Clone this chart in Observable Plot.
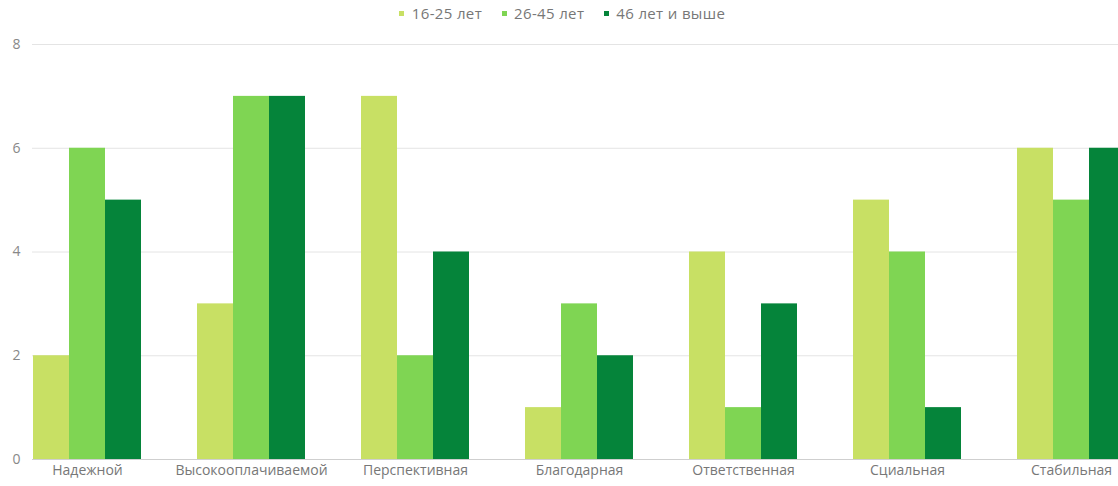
<!DOCTYPE html>
<html><head><meta charset="utf-8">
<script src="https://cdn.jsdelivr.net/npm/d3@7"></script>
<script src="https://cdn.jsdelivr.net/npm/@observablehq/plot@0.6"></script>
<style>
html,body{margin:0;padding:0;background:#fff;overflow:hidden;width:1118px;height:486px}
#legend{height:26px;width:1144px;display:flex;justify-content:center;align-items:center;overflow:visible}
#legend span{margin-right:1.3em !important}
#chart{width:1130px;height:460px;position:relative}
#chart svg{position:absolute;left:0;top:0}
</style></head><body>
<div id="legend"></div><div id="chart"></div>
<script>
const categories = ["Надежной","Высокооплачиваемой","Перспективная","Благодарная","Ответственная","Сциальная","Стабильная"];
const seriesNames = ["16-25 лет","26-45 лет","46 лет и выше"];
const values1625 = [2,3,7,1,4,5,6];
const values2645 = [6,7,2,3,1,4,5];
const values46plus = [5,7,4,2,3,1,6];
const yTicks = [0,2,4,6,8];
const colors = ["#c8e064","#7fd553","#05843a"];

const seriesValues = [values1625, values2645, values46plus];
const data = [];
categories.forEach((c, i) => seriesNames.forEach((s, j) => data.push({category: c, series: s, value: seriesValues[j][i]})));

const font = "'Open Sans', 'Noto Sans', sans-serif";

const legend = Plot.legend({
  color: {type: "ordinal", domain: seriesNames, range: colors},
  swatchSize: 5,
  style: {fontFamily: font, fontSize: "15px", letterSpacing: "0.35px", color: "#777", minHeight: "0", margin: "0"}
});
document.getElementById("legend").append(legend);

const dims = {width: 1130, height: 460, marginLeft: 32, marginRight: 0, marginTop: 18, marginBottom: 27};
const bandOpts = {paddingInner: 0.33, paddingOuter: 0, align: 0};

// background layer: grid, y axis, category labels
const back = Plot.plot({
  ...dims,
  style: {fontFamily: font, fontSize: "14px", color: "#777", maxWidth: "none", background: "#fff"},
  x: {type: "band", domain: categories, ...bandOpts, axis: null},
  y: {domain: [0, 8], axis: null},
  marks: [
    Plot.ruleY(yTicks, {stroke: "#e4e4e4"}),
    Plot.ruleY([0], {stroke: "#cfcfcf"}),
    Plot.axisY({ticks: yTicks, tickSize: 0, tickPadding: 12, label: null, fill: "#888", fontSize: 14}),
    Plot.axisX({anchor: "bottom", tickSize: 0, tickPadding: 6, label: null, fill: "#777", fontSize: 14})
  ]
});

// foreground layer: grouped bars
const front = Plot.plot({
  ...dims,
  style: {maxWidth: "none", background: "transparent", overflow: "visible"},
  fx: {domain: categories, ...bandOpts, axis: null},
  x: {domain: seriesNames, axis: null, padding: 0},
  y: {domain: [0, 8], axis: null},
  color: {domain: seriesNames, range: colors},
  marks: [
    Plot.barY(data, {fx: "category", x: "series", y: "value", fill: "series"})
  ]
});
const chartEl = document.getElementById("chart");
chartEl.append(back);
chartEl.append(front);
</script>
</body></html>
